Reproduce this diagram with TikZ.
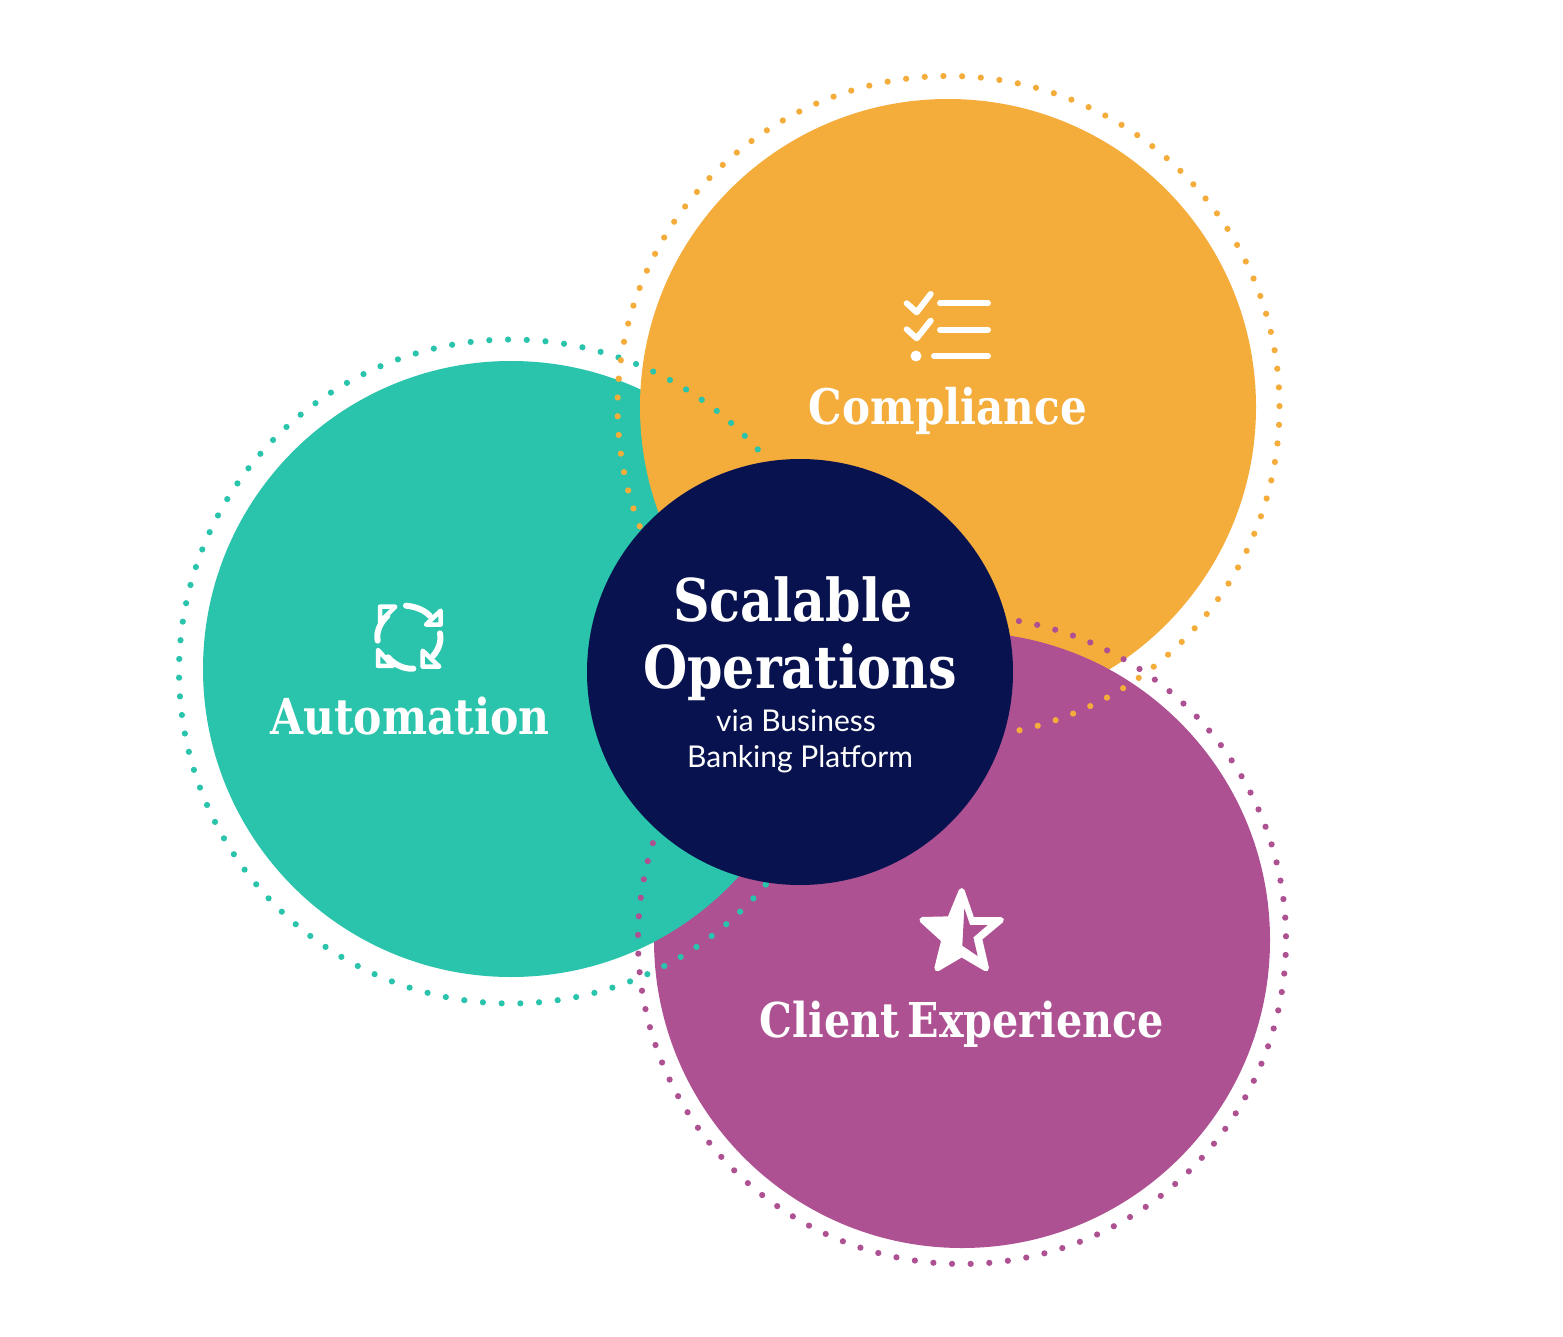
\documentclass[tikz,border=0pt]{standalone}
\usepackage{fontspec}
\setmainfont{Lato}
\newfontfamily\hdfont[FakeStretch=0.86]{DejaVu Serif}
\newfontfamily\subfont{Lato}
\definecolor{cteal}{HTML}{29C4AB}
\definecolor{corange}{HTML}{F4AC3B}
\definecolor{cpurple}{HTML}{AE5192}
\definecolor{cnavy}{HTML}{07124F}
\tikzset{
  bigtitle/.style={anchor=base,text=white,inner sep=0pt,font=\hdfont\bfseries\fontsize{59}{59}\selectfont},
  label/.style={anchor=base,text=white,inner sep=0pt,font=\hdfont\bfseries\fontsize{49}{50}\selectfont},
  subtitle/.style={anchor=base,text=white,inner sep=0pt,font=\subfont\fontsize{30}{30}\selectfont},
  iconline/.style={draw=white,line width=6pt,line cap=round,line join=round},
  arrowtip/.style={draw=white,line width=4.5pt,line join=round},
}
\newcommand{\dotring}[7]{% cx cy r start step last colour
  \foreach \k in {0,...,#6}{
    \fill[#7] ({#1+#3*cos(#4+\k*#5)},{#2-#3*sin(#4+\k*#5)}) circle (3.1);
  }
}
\begin{document}
\begin{tikzpicture}[x=1pt,y=-1pt]
\useasboundingbox (0,0) rectangle (1563,1337);
\fill[white] (0,0) rectangle (1563,1337);
% discs, with cyclic overlap
\fill[cteal] (511,669) circle (308);
\fill[corange] (948,407) circle (308);
\fill[cpurple] (962,940) circle (308);
\begin{scope}
  \clip (962,940) circle (311);
  \fill[cteal] (511,669) circle (308);
\end{scope}
% dotted rings (visible stretches; the seams lie under the centre disc)
\dotring{511}{671.5}{332}{42}{3.234}{86}{cteal}
\dotring{511}{671.5}{332}{320.1}{3.234}{10}{cteal}
\dotring{948.5}{407}{331}{282.4}{3.24}{78}{corange}
\dotring{948.5}{407}{331}{175.1}{3.25}{8}{corange}
\dotring{962}{940}{324}{162.6}{3.301}{84}{cpurple}
% centre disc
\fill[cnavy] (800,672) circle (213);
% texts
\node[bigtitle] (t1) at (793,621) {Scalable};
\node[bigtitle] (t2) at (800,688) {Operations};
\node[subtitle] (s1) at (796,731) {via Business};
\node[subtitle] (s2) at (800,767) {Banking Platform};
\node[label] (l1) at (948,424) {Compliance};
\node[label,font=\hdfont\bfseries\fontsize{49.5}{50}\selectfont] (l2) at (410,734) {Automation};
\node[label,font=\hdfont\bfseries\fontsize{48}{48}\selectfont] (l3) at (962,1037) {Client\hspace{-6pt} Experience};
% checklist icon
\draw[iconline] (906.7,303.3) -- (916.7,312.3) -- (930.7,294);
\draw[iconline] (906.7,329.3) -- (916.7,338.3) -- (930.7,320.7);
\draw[iconline] (940,303.3) -- (988,303.3);
\draw[iconline] (940,329.7) -- (988,329.7);
\draw[iconline] (934,356) -- (988,356);
\fill[white] (916,356) circle (5.5);
% cycle icon
\begin{scope}[shift={(360,590)},x=0.3333pt,y=-0.3333pt]
  \draw[iconline] (138,47) .. controls (170,50) and (195,62) .. (210,78);
  \draw[iconline] (240,130) .. controls (245,155) and (235,180) .. (219,198);
  \draw[iconline] (160,236) .. controls (135,238) and (105,226) .. (84,202);
  \draw[iconline] (53,152) .. controls (48,130) and (58,100) .. (82,78);
  \draw[arrowtip] (60,50) -- (106,50) -- (60,96) -- cycle;
  \draw[arrowtip] (242,62) -- (242,104) -- (198,104) -- cycle;
  \draw[arrowtip] (54,180) -- (98,228) -- (54,228) -- cycle;
  \draw[arrowtip] (188,182) -- (238,230) -- (188,230) -- cycle;
\end{scope}
% star icon
\begin{scope}[shift={(905,880)},x=0.3333pt,y=-0.3333pt]
  \filldraw[fill=white,draw=white,line width=6pt,line join=round]
    (170,33) -- (200,120) -- (288,120) -- (222,175) -- (243,265) -- (170,222)
    -- (97,265) -- (118,180) -- (52,120) -- (135,118) -- cycle;
  \fill[cpurple] (178,85) -- (195,135) -- (248,135) -- (205,172) -- (218,228) -- (172,197) -- cycle;
\end{scope}
\end{tikzpicture}
\end{document}
